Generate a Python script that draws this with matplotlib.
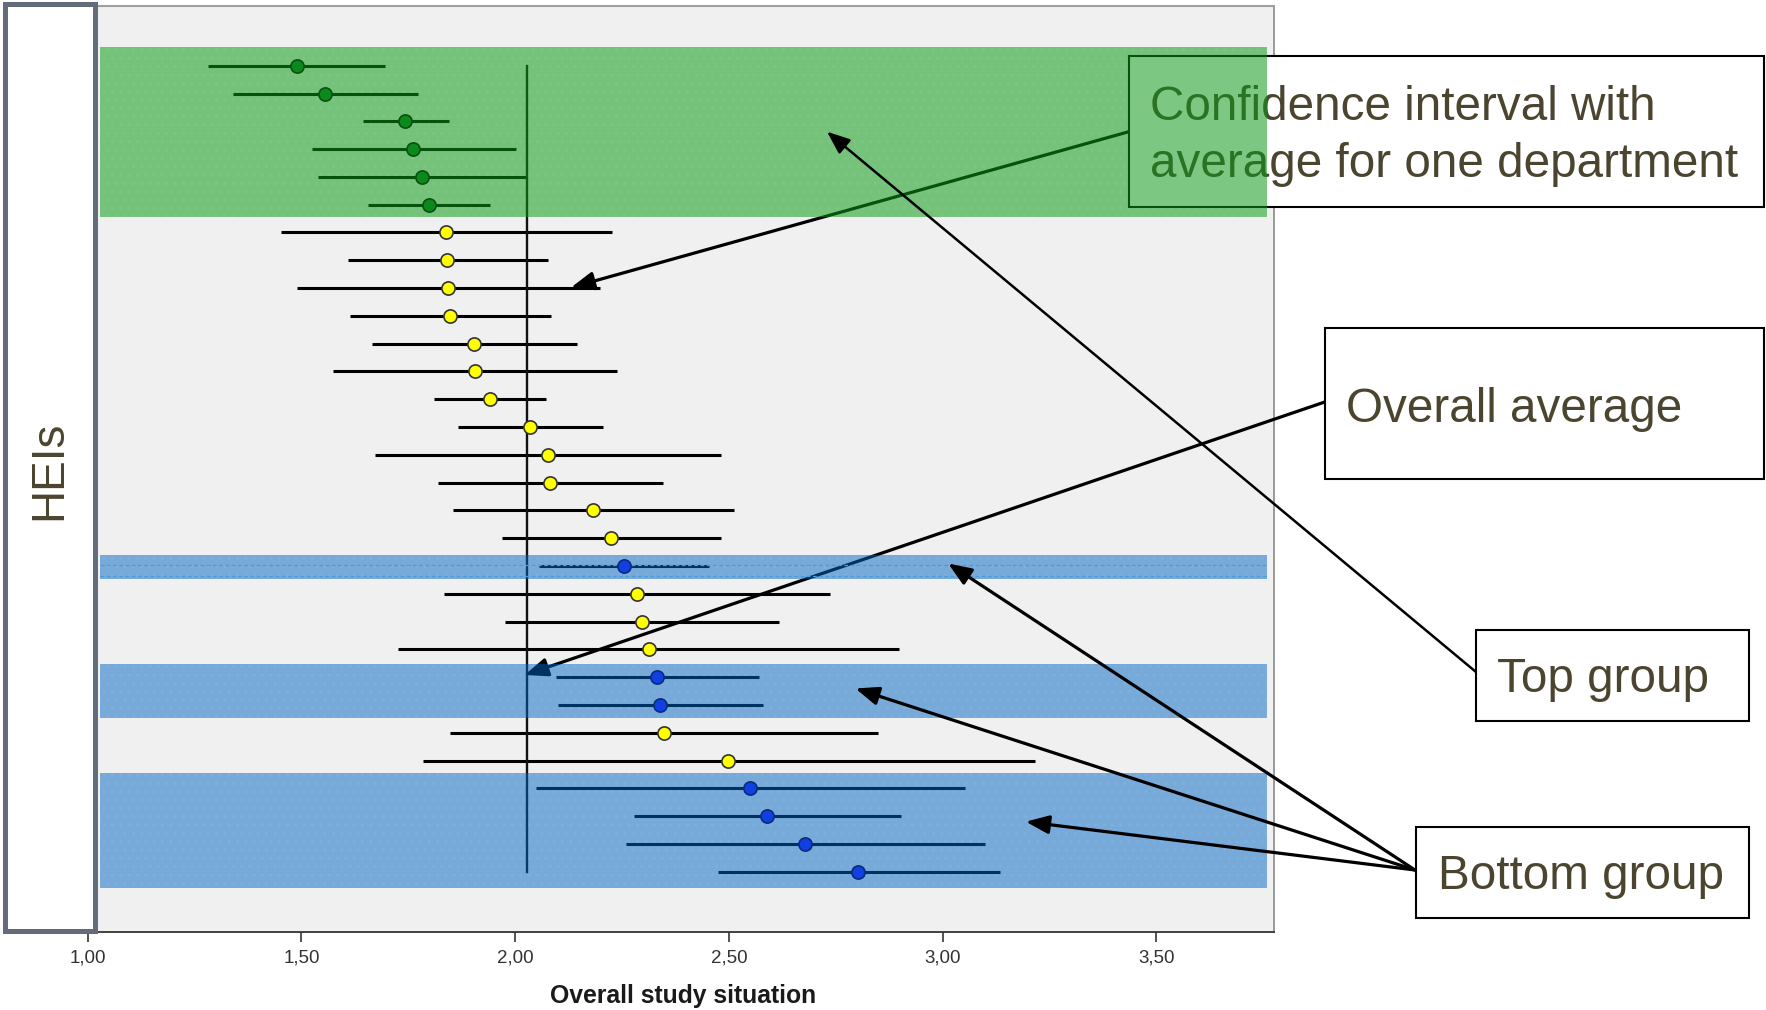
import matplotlib
matplotlib.use('Agg')
import matplotlib.pyplot as plt
from matplotlib.patches import Rectangle

plt.rcParams['font.family'] = ['Liberation Sans', 'DejaVu Sans']

W, H = 1766, 1010

# one row per department (top to bottom), 95% CI of the overall study situation
rows = list(range(1, 31))
lower = [1.282, 1.339, 1.645, 1.524, 1.539, 1.656, 1.451, 1.608, 1.489, 1.613,
         1.665, 1.573, 1.809, 1.865, 1.672, 1.820, 1.855, 1.969, 2.055, 1.834,
         1.976, 1.725, 2.095, 2.100, 1.847, 1.785, 2.048, 2.279, 2.259, 2.475]
means = [1.489, 1.555, 1.743, 1.761, 1.781, 1.798, 1.837, 1.840, 1.842, 1.847,
         1.904, 1.905, 1.940, 2.034, 2.076, 2.082, 2.183, 2.225, 2.255, 2.285,
         2.297, 2.312, 2.332, 2.339, 2.348, 2.498, 2.549, 2.589, 2.678, 2.803]
upper = [1.695, 1.772, 1.844, 2.001, 2.027, 1.942, 2.226, 2.077, 2.198, 2.084,
         2.144, 2.239, 2.071, 2.205, 2.482, 2.346, 2.512, 2.482, 2.454, 2.736,
         2.617, 2.898, 2.571, 2.580, 2.850, 3.216, 3.052, 2.902, 3.099, 3.135]
groups = (['top'] * 6 + ['mid'] * 12 + ['bottom'] + ['mid'] * 3 + ['bottom'] * 2
          + ['mid'] * 2 + ['bottom'] * 4)
overall_mean = 2.027

ticks = [1.0, 1.5, 2.0, 2.5, 3.0, 3.5]
tick_labels = ['1,00', '1,50', '2,00', '2,50', '3,00', '3,50']

band_x = (1.0285, 3.760)
green_bands = [(0.33, 6.44)]
blue_bands = [(18.61, 19.48), (22.53, 24.46), (26.44, 30.57)]

text_col = '#4b4530'


def fx(px):
    return px / W


def fy(py):
    return 1 - py / H


fig = plt.figure(figsize=(W / 100, H / 100), dpi=100)
ax = fig.add_axes([fx(60), fy(931.7), fx(1274.4) - fx(60), (931.7 - 6) / H])
ax.set_facecolor('#f0f0f0')

# faint dot texture of the bands (under everything, tinted by the bands)
for y0, y1 in green_bands + blue_bands:
    ax.add_patch(Rectangle((band_x[0], y0), band_x[1] - band_x[0], y1 - y0,
                           facecolor='none', edgecolor=(1, 1, 1, 0.7), hatch='..',
                           lw=0, zorder=0.5))

# error bars (under the coloured bands, so they get tinted)
for r, lo, hi in zip(rows, lower, upper):
    ax.plot([lo, hi], [r, r], color='black', lw=2.2, zorder=1.5,
            solid_capstyle='butt')

ax.plot([overall_mean, overall_mean], [rows[0], rows[-1]], color='#111111',
        lw=1.7, zorder=1.5)

# bands
for y0, y1 in green_bands:
    ax.add_patch(Rectangle((band_x[0], y0), band_x[1] - band_x[0], y1 - y0,
                           facecolor=(14 / 255, 155 / 255, 25 / 255), alpha=0.54,
                           lw=0, zorder=3))
for y0, y1 in blue_bands:
    ax.add_patch(Rectangle((band_x[0], y0), band_x[1] - band_x[0], y1 - y0,
                           facecolor=(0, 100 / 255, 195 / 255), alpha=0.5,
                           lw=0, zorder=3))
for yy in (18.96, 19.35):
    ax.plot(band_x, [yy, yy], ls=(0, (3, 2)), color='#4d9ad8', lw=0.9, zorder=3.2)

# markers
styles = {'top': ('#0b8a1b', '#0a5010'),
          'mid': ('#ffff00', '#333333'),
          'bottom': ('#1040e0', '#0a2a80')}
for r, m, g in zip(rows, means, groups):
    fc, ec = styles[g]
    ax.plot(m, r, 'o', ms=9.5, mfc=fc, mec=ec, mew=1.2, zorder=4)

ax.set_xlim(1 + (60 - 87.8) / 427.4, 1 + (1274.4 - 87.8) / 427.4)
ax.set_ylim(32.16, -1.15)
ax.set_yticks([])
ax.set_xticks(ticks, tick_labels)
ax.tick_params(axis='x', length=7, width=1.2, color='#333333',
               labelcolor='#333333', labelsize=13.5, pad=6)

ax.spines['left'].set_visible(False)
ax.spines['right'].set_visible(False)
ax.spines['top'].set_color('#a0a0a0')
ax.spines['top'].set_linewidth(1.5)
ax.spines['bottom'].set_color('#333333')
ax.spines['bottom'].set_linewidth(1.3)
ax.plot([1, 1], [0, 1], transform=ax.transAxes, clip_on=False, zorder=1.2,
        color='#8a8a8a', lw=1.2)

fig.text(fx(683), fy(1003), 'Overall study situation', ha='center', va='baseline',
         fontsize=17.8, fontweight='bold', color='#1a1a1a')

# HEIs box on the left
fig.add_artist(Rectangle((fx(5), fy(931)), fx(95.3) - fx(5), fy(3.7) - fy(931),
                         transform=fig.transFigure, facecolor='white',
                         edgecolor='#646b7b', lw=3.6))
fig.text(fx(49), fy(470), 'HEIs', rotation=90, ha='center', va='center',
         fontsize=33, color=text_col)

# callout boxes
ax.add_patch(Rectangle((fx(1128.5), fy(207.3)), fx(1764) - fx(1128.5),
                       fy(56) - fy(207.3), transform=fig.transFigure,
                       facecolor='white', edgecolor='black', lw=1.5,
                       zorder=1.6, clip_on=False))
ax.text(fx(1150), fy(120), 'Confidence interval with', transform=fig.transFigure,
        va='baseline', ha='left', fontsize=34.3, color=text_col, zorder=1.7,
        clip_on=False)
ax.text(fx(1150), fy(177), 'average for one department', transform=fig.transFigure,
        va='baseline', ha='left', fontsize=34.3, color=text_col, zorder=1.7,
        clip_on=False)

boxes = [((1325, 328.3, 1764, 479), (1346, 421.7), 'Overall average'),
         ((1476, 630, 1749, 720.5), (1497, 691.7), 'Top group'),
         ((1415.6, 826.7, 1749, 917.7), (1437.6, 889), 'Bottom group')]
for (x0, y0, x1, y1), (tx, ty), label in boxes:
    fig.add_artist(Rectangle((fx(x0), fy(y1)), fx(x1) - fx(x0), fy(y0) - fy(y1),
                             transform=fig.transFigure, facecolor='white',
                             edgecolor='black', lw=1.5))
    fig.text(fx(tx), fy(ty), label, ha='left', va='baseline', fontsize=34.3,
             color=text_col)

# arrows (start, tip, width, drawn under the bands?)
arrows = [((1128.5, 131.8), (571, 287.5), 2.3, True),
          ((1325.6, 401.7), (524.6, 675), 2.3, True),
          ((1476, 672), (827, 131.7), 1.8, False),
          ((1415, 870), (948.2, 563.5), 2.3, False),
          ((1415, 870), (855.5, 688.5), 2.3, False),
          ((1415, 870), (1025.8, 821.7), 2.3, False)]
for (sx, sy), (ex, ey), lw, under in arrows:
    ax.annotate('', xy=(ex, H - ey), xycoords='figure pixels',
                xytext=(sx, H - sy), textcoords='figure pixels',
                arrowprops=dict(arrowstyle='-|>,head_length=0.5,head_width=0.2',
                                color='black', lw=lw, shrinkA=0, shrinkB=0,
                                mutation_scale=28),
                annotation_clip=False, zorder=1.8 if under else 5)

fig.savefig('out.png', dpi=100)
